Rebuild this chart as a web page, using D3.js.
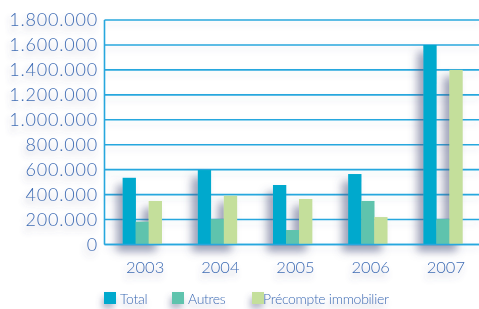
<!DOCTYPE html>
<html>
<head>
<meta charset="utf-8">
<script src="https://cdn.jsdelivr.net/npm/d3@7"></script>
<style>
  body { margin: 0; background: #fff; }
  svg { display: block; font-family: Lato, "Open Sans", sans-serif; }
</style>
</head>
<body>
<script>
// data
let years = ["2003", "2004", "2005", "2006", "2007"];
let seriesNames = ["Total", "Autres", "Précompte immobilier"];
let total = [535000, 597000, 477000, 565000, 1600000];
let autres = [183000, 204000, 116000, 349000, 204000];
let precompte = [349000, 391000, 365000, 220000, 1400000];
let yTicks = [0, 200000, 400000, 600000, 800000, 1000000, 1200000, 1400000, 1600000, 1800000];

let colors = ["#00a9cd", "#5fc3ad", "#c4df9b"];
let w = 479, h = 309;

let svg = d3.select("body").append("svg")
    .attr("width", w)
    .attr("height", h);

// soft shadows
let defs = svg.append("defs");
function shadow(id, dx, dy, blur, op) {
    let f = defs.append("filter").attr("id", id)
        .attr("x", "-50%").attr("y", "-50%").attr("width", "200%").attr("height", "200%");
    f.append("feDropShadow")
        .attr("dx", dx).attr("dy", dy)
        .attr("stdDeviation", blur)
        .attr("flood-color", "#4f5580")
        .attr("flood-opacity", op);
}
shadow("barShadow", -6, 7, 4, 0.55);
shadow("txtShadow", -2, 5, 3, 0.4);
shadow("lineShadow", 0, 4, 3, 0.12);

let plotLeft = 104.5, plotRight = 479, plotTop = 20, plotBottom = 244.5;

let x = d3.scaleBand().domain(years).range([105, 480]).paddingInner(0.48).paddingOuter(0.234);
let xs = d3.scaleBand().domain(seriesNames).range([0, x.bandwidth()]);
let y = d3.scaleLinear().domain([0, 1800000]).range([plotBottom, plotTop]);

let fmt = function(v) {
    return v === 0 ? "0" : d3.format(",")(v).replace(/,/g, ".");
};

// gridlines
svg.append("g")
    .attr("filter", "url(#lineShadow)")
    .selectAll("line")
    .data(yTicks)
    .enter()
    .append("line")
    .attr("x1", plotLeft).attr("x2", plotRight)
    .attr("y1", function(d) { return y(d); })
    .attr("y2", function(d) { return y(d); })
    .style("stroke", "#27a7de")
    .style("stroke-width", 1.6);

// y axis line
svg.append("line")
    .attr("x1", plotLeft).attr("x2", plotLeft)
    .attr("y1", plotTop).attr("y2", plotBottom)
    .style("stroke", "#27a7de")
    .style("stroke-width", 1.6);

// bars
let data = years.map(function(yr, i) {
    return { year: yr, values: [total[i], autres[i], precompte[i]] };
});

let groups = svg.append("g")
    .selectAll("g")
    .data(data)
    .enter()
    .append("g")
    .attr("filter", "url(#barShadow)")
    .attr("transform", function(d) { return "translate(" + x(d.year) + ",0)"; });

groups.selectAll("rect")
    .data(function(d) { return d.values.map(function(v, i) { return { name: seriesNames[i], v: v, i: i }; }); })
    .enter()
    .append("rect")
    .attr("x", function(d) { return xs(d.name); })
    .attr("width", xs.bandwidth() + 0.3)
    .attr("y", function(d) { return y(d.v); })
    .attr("height", function(d) { return plotBottom - y(d.v); })
    .style("fill", function(d) { return colors[d.i]; });

// redraw baseline on top
svg.append("line")
    .attr("x1", plotLeft).attr("x2", plotRight)
    .attr("y1", plotBottom).attr("y2", plotBottom)
    .style("stroke", "#27a7de")
    .style("stroke-width", 1.6);

let textColor = "#3f6cb4";

// y labels
svg.append("g")
    .attr("filter", "url(#txtShadow)")
    .selectAll("text")
    .data(yTicks)
    .enter()
    .append("text")
    .attr("x", 98)
    .attr("y", function(d) { return y(d); })
    .attr("dy", "0.36em")
    .attr("text-anchor", "end")
    .style("font-size", "18px")
    .style("letter-spacing", "0.8px")
    .style("font-weight", 300)
    .style("fill", textColor)
    .text(fmt);

// x labels
svg.append("g")
    .attr("filter", "url(#txtShadow)")
    .selectAll("text")
    .data(years)
    .enter()
    .append("text")
    .attr("x", function(d) { return x(d) + x.bandwidth() / 2 + 3; })
    .attr("y", 273)
    .attr("text-anchor", "middle")
    .style("font-size", "16.5px")
    .style("font-weight", 300)
    .style("fill", textColor)
    .text(function(d) { return d; });

// legend
let legendX = [104, 172, 252];
let legend = svg.append("g")
    .attr("filter", "url(#txtShadow)")
    .selectAll("g")
    .data(seriesNames)
    .enter()
    .append("g")
    .attr("transform", function(d, i) { return "translate(" + legendX[i] + ",292)"; });

legend.append("rect")
    .attr("width", 12).attr("height", 12)
    .style("fill", function(d, i) { return colors[i]; });

legend.append("text")
    .attr("x", function(d, i) { return i === 2 ? 11 : 16; })
    .attr("y", 11.5)
    .style("font-size", "14px")
    .style("letter-spacing", "-0.3px")
    .style("font-weight", 300)
    .style("fill", textColor)
    .text(function(d) { return d; });
</script>
</body>
</html>
